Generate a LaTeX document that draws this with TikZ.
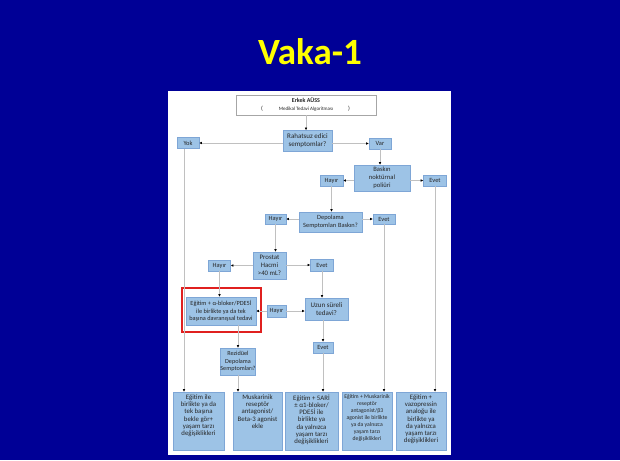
\documentclass[tikz,border=0pt]{standalone}
\usepackage{fontspec}
\setmainfont{Carlito}
\usetikzlibrary{arrows.meta}
\definecolor{bg}{RGB}{0,0,150}
\definecolor{bxfill}{HTML}{9DC3E6}
\definecolor{bxline}{HTML}{7EA6D6}
\definecolor{lncol}{HTML}{C0C0C0}
\definecolor{txt}{HTML}{262626}
\definecolor{redframe}{HTML}{E0201F}
\definecolor{ttl}{HTML}{FFFF00}
\tikzset{
  wh/.style 2 args={minimum width=#1pt, minimum height=#2pt},
  bx/.style={draw=bxline, line width=0.5pt, fill=bxfill, inner sep=0pt, align=center, text=txt,
    font=\fontsize{6.6}{7.8}\selectfont},
  lab/.style={bx, font=\fontsize{6.4}{7}\selectfont},
  bt/.style={inner sep=0pt, align=center, text=txt, font=\fontsize{6.8}{7.3}\selectfont},
  ln/.style={draw=lncol, line width=0.7pt, -{Latex[length=2.6pt,width=2.6pt,color=black]}},
  panel/.style={fill=white, draw=none}
}
\begin{document}
\begin{tikzpicture}[x=1pt,y=-1pt]
\useasboundingbox (0,0) rectangle (620,460);
\fill[bg] (0,0) rectangle (620,460);
\node[text=ttl, font=\bfseries\fontsize{37}{40}\selectfont] (title) at (310,52) {Vaka-1};
\node[panel, wh={283}{364}] (pnl) at (309.5,273) {};

% header
\node[draw=black!35, fill=white, line width=0.5pt, wh={140}{20}] (erkek) at (306,105) {};
\node[text=txt, font=\bfseries\fontsize{6}{7}\selectfont] (erkt) at (306,100.5) {Erkek AÜSS};
\node[text=txt, font=\fontsize{5}{6}\selectfont] (erks) at (306,109.5) {Medikal Tedavi Algoritması};
\node[text=txt, font=\fontsize{6}{7}\selectfont] (pl) at (262,109) {(};
\node[text=txt, font=\fontsize{6}{7}\selectfont] (pr) at (349,109) {)};

% decision boxes
\node[bx, wh={49}{21}, font=\fontsize{7}{8}\selectfont] (rah) at (307.5,141) {Rahatsuz edici\\semptomlar?};
\node[lab, wh={22}{11}] (yok) at (188,143) {Yok};
\node[lab, wh={22}{11}] (var) at (380,143.5) {Var};
\node[bx, wh={56}{26}] (bask) at (382,178) {Baskın\\noktürnal\\poliüri};
\node[lab, wh={23}{11}] (hay1) at (331.5,180.5) {Hayır};
\node[lab, wh={23}{11}] (evet1) at (435,180.5) {Evet};
\node[bx, wh={63}{20}, font=\fontsize{6.4}{7.6}\selectfont] (dep) at (330.5,222) {Depolama\\Semptomları Baskın?};
\node[lab, wh={21}{10}] (hay2) at (275.5,219) {Hayır};
\node[lab, wh={22}{10}] (evet2) at (384,219) {Evet};
\node[bx, wh={33}{27}, font=\fontsize{6.8}{8.2}\selectfont] (pro) at (269.5,265.5) {Prostat\\Hacmi\\>40 mL?};
\node[lab, wh={22}{11}] (hay3) at (219.5,265.5) {Hayır};
\node[lab, wh={23}{12}] (evet3) at (322,265) {Evet};
\node[bx, wh={70}{28}, font=\fontsize{6.3}{7.6}\selectfont] (egit) at (221,311) {Eğitim + α-bloker/PDE5İ\\ile birlikte ya da tek\\başına davranışsal tedavi};
\node[draw=redframe, line width=1.8pt, wh={79}{44}, inner sep=0pt] (redfr) at (221.5,310) {};
\node[lab, wh={19}{12}] (hay4) at (276.5,311) {Hayır};
\node[bx, wh={43}{22}, font=\fontsize{7}{8}\selectfont] (uzun) at (326.5,309) {Uzun süreli\\tedavi?};
\node[lab, wh={20}{11}] (evet4) at (323,347.5) {Evet};
\node[bx, wh={34}{27}, font=\fontsize{6.2}{7.8}\selectfont] (rez) at (238,361.5) {Rezidüel\\Depolama\\Semptomları?};

% bottom boxes
\node[bx, wh={51}{58}] (b1) at (198.5,421) {};
\node[bx, wh={49}{58}] (b2) at (257.5,421) {};
\node[bx, wh={53}{58}] (b3) at (311.5,421) {};
\node[bx, wh={50}{58}] (b4) at (367,421) {};
\node[bx, wh={50}{58}] (b5) at (421,421) {};
\node[bt, anchor=north] (b1t) at ([yshift=-2.5pt]b1.north) {Eğitim ile\\birlikte ya da\\tek başına\\bekle gör+\\yaşam tarzı\\değişiklikleri};
\node[bt, anchor=north] (b2t) at ([yshift=-2.5pt]b2.north) {Muskarinik\\reseptör\\antagonist/\\Beta-3 agonist\\ekle};
\node[bt, anchor=north] (b3t) at ([yshift=-2.5pt]b3.north) {Eğitim + 5ARİ\\± α1-bloker/\\PDE5İ ile\\birlikte ya\\da yalnızca\\yaşam tarzı\\değişiklikleri};
\node[bt, anchor=north, font=\fontsize{5.7}{7}\selectfont] (b4t) at ([yshift=-2.5pt]b4.north) {Eğitim + Muskarinik\\reseptör\\antagonist/β3\\agonist ile birlikte\\ya da yalnızca\\yaşam tarzı\\değişiklikleri};
\node[bt, anchor=north] (b5t) at ([yshift=-2.5pt]b5.north) {Eğitim +\\vazopressin\\analoğu ile\\birlikte ya\\da yalnızca\\yaşam tarzı\\değişiklikleri};

% connectors
\draw[ln] (erkek.south) -- (erkek.south |- rah.north);
\draw[ln] (rah.west |- yok.east) -- (yok.east);
\draw[ln] (rah.east |- var.west) -- (var.west);
\draw[ln] (var.south) -- (var.south |- bask.north);
\draw[ln] (bask.west |- hay1.east) -- (hay1.east);
\draw[ln] (bask.east |- evet1.west) -- (evet1.west);
\draw[ln] (hay1.south) -- (hay1.south |- dep.north);
\draw[ln] (dep.west |- hay2.east) -- (hay2.east);
\draw[ln] (dep.east |- evet2.west) -- (evet2.west);
\draw[ln] (hay2.south) -- (hay2.south |- pro.north);
\draw[ln] (pro.west |- hay3.east) -- (hay3.east);
\draw[ln] (pro.east |- evet3.west) -- (evet3.west);
\draw[ln] (hay3.south) -- (hay3.south |- egit.north);
\draw[ln] (evet3.south) -- (evet3.south |- uzun.north);
\draw[ln] (hay4.west) -- (egit.east |- hay4.west);
\draw[ln] (hay4.east) -- (uzun.west |- hay4.east);
\draw[ln] (evet4.north |- uzun.south) -- (evet4.north);
\draw[ln] (evet4.south) -- (evet4.south |- b3.north);
\draw[ln] (rez.north |- egit.south) -- (rez.north);
\draw[ln] (rez.south) -- (rez.south |- b2.north);
\draw[ln] ([xshift=-4pt]yok.south) -- ([xshift=-4pt]yok.south |- b1.north);
\draw[ln] (evet2.south) -- (evet2.south |- b4.north);
\draw[ln] (evet1.south) -- (evet1.south |- b5.north);
\end{tikzpicture}
\end{document}
